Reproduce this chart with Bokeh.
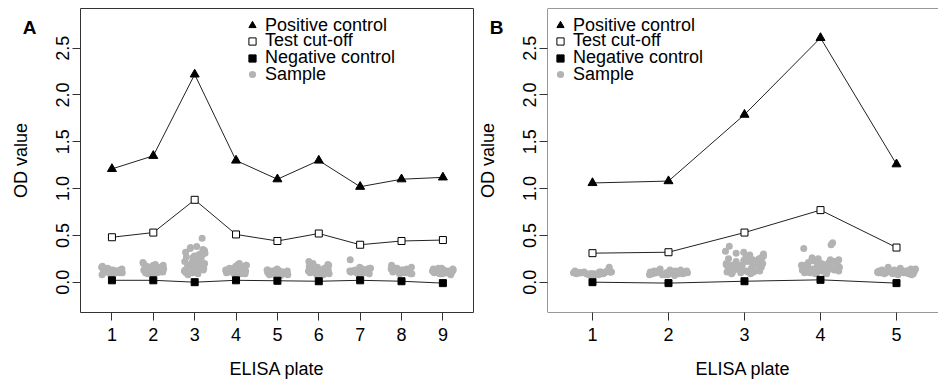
from bokeh.plotting import figure
from bokeh.layouts import row
from bokeh.models import (Range1d, FixedTicker, PrintfTickFormatter, Legend,
                          LegendItem, Span, LinearAxis)
from bokeh.embed import file_html
from bokeh.resources import INLINE

FONT = "Liberation Sans"

# ---------------- data ----------------
PLATES_A = [1, 2, 3, 4, 5, 6, 7, 8, 9]
POS_A = [1.21, 1.35, 2.22, 1.30, 1.10, 1.30, 1.02, 1.10, 1.12]
CUT_A = [0.48, 0.53, 0.88, 0.51, 0.44, 0.52, 0.40, 0.44, 0.45]
NEG_A = [0.02, 0.02, 0.00, 0.02, 0.015, 0.01, 0.02, 0.01, -0.01]

A1 = [0.10, 0.12, 0.09, 0.14, 0.11, 0.13, 0.10, 0.08, 0.12, 0.15, 0.11, 0.09, 0.13,
      0.10, 0.12, 0.17, 0.11, 0.14, 0.10, 0.12, 0.09, 0.13, 0.11, 0.16, 0.10]
A2 = [0.12, 0.15, 0.10, 0.18, 0.13, 0.09, 0.16, 0.20, 0.11, 0.14, 0.17, 0.12, 0.10,
      0.15, 0.19, 0.13, 0.11, 0.16, 0.14, 0.09, 0.18, 0.12, 0.15, 0.21, 0.10, 0.13,
      0.17, 0.11, 0.14, 0.12]
A3 = [0.12, 0.25, 0.10, 0.33, 0.18, 0.14, 0.30, 0.22, 0.09, 0.36, 0.15, 0.28, 0.11,
      0.20, 0.38, 0.13, 0.26, 0.17, 0.31, 0.10, 0.24, 0.35, 0.16, 0.12, 0.29, 0.19,
      0.08, 0.34, 0.21, 0.14, 0.27, 0.47, 0.11, 0.23, 0.32, 0.15, 0.18, 0.37, 0.13,
      0.26, 0.10, 0.30, 0.16, 0.20, 0.12]
A4 = [0.11, 0.15, 0.09, 0.18, 0.13, 0.10, 0.16, 0.12, 0.20, 0.14, 0.09, 0.17, 0.11,
      0.13, 0.19, 0.10, 0.15, 0.12, 0.18, 0.14, 0.10, 0.16, 0.11, 0.13, 0.17, 0.09,
      0.15, 0.12, 0.14, 0.11]
A5 = [0.09, 0.11, 0.08, 0.12, 0.10, 0.13, 0.09, 0.11, 0.07, 0.12, 0.10, 0.14, 0.08,
      0.11, 0.09, 0.13, 0.10, 0.12, 0.08, 0.11, 0.10, 0.09, 0.12, 0.13, 0.10]
A6 = [0.10, 0.14, 0.08, 0.18, 0.12, 0.09, 0.16, 0.22, 0.11, 0.13, 0.19, 0.10, 0.15,
      0.08, 0.12, 0.17, 0.11, 0.14, 0.09, 0.20, 0.13, 0.10, 0.16, 0.12, 0.09, 0.15,
      0.11, 0.13]
A7 = [0.11, 0.13, 0.09, 0.15, 0.12, 0.10, 0.14, 0.24, 0.11, 0.13, 0.09, 0.16, 0.12,
      0.10, 0.14, 0.11, 0.13, 0.10, 0.15, 0.12, 0.09, 0.14, 0.11, 0.12, 0.10]
A8 = [0.11, 0.14, 0.09, 0.16, 0.12, 0.10, 0.13, 0.18, 0.11, 0.15, 0.09, 0.12, 0.14,
      0.10, 0.13, 0.16, 0.11, 0.12, 0.09, 0.15, 0.13, 0.10, 0.12, 0.14, 0.11]
A9 = [0.10, 0.12, 0.09, 0.14, 0.11, 0.13, 0.08, 0.12, 0.10, 0.15, 0.11, 0.09, 0.13,
      0.10, 0.12, 0.14, 0.11, 0.09, 0.13, 0.12, 0.10, 0.11, 0.15, 0.12, 0.10]
SAMPLES_A = [A1, A2, A3, A4, A5, A6, A7, A8, A9]

PLATES_B = [1, 2, 3, 4, 5]
POS_B = [1.06, 1.08, 1.79, 2.61, 1.26]
CUT_B = [0.31, 0.32, 0.53, 0.77, 0.37]
NEG_B = [0.00, -0.01, 0.01, 0.025, -0.01]

B1 = [0.09, 0.10, 0.08, 0.11, 0.10, 0.09, 0.12, 0.10, 0.08, 0.11, 0.16, 0.09, 0.10,
      0.11, 0.08, 0.12, 0.10, 0.09, 0.11, 0.10, 0.08, 0.12, 0.09, 0.10, 0.11, 0.09,
      0.10, 0.11]
B2 = [0.09, 0.11, 0.08, 0.12, 0.10, 0.13, 0.09, 0.11, 0.07, 0.14, 0.10, 0.08, 0.12,
      0.09, 0.11, 0.10, 0.13, 0.08, 0.10, 0.12, 0.09, 0.11, 0.10, 0.08, 0.12, 0.09,
      0.10, 0.11]
B3 = [0.15, 0.22, 0.10, 0.28, 0.18, 0.12, 0.25, 0.20, 0.09, 0.31, 0.16, 0.23, 0.13,
      0.19, 0.27, 0.11, 0.21, 0.17, 0.30, 0.14, 0.24, 0.12, 0.18, 0.33, 0.15, 0.20,
      0.10, 0.26, 0.16, 0.22, 0.385, 0.13, 0.19, 0.29, 0.17, 0.11, 0.23, 0.14, 0.21,
      0.18, 0.25, 0.12, 0.16, 0.20, 0.09, 0.27, 0.15, 0.19, 0.13, 0.22, 0.17, 0.32,
      0.14, 0.24, 0.11, 0.18, 0.21, 0.16, 0.28, 0.13]
B4 = [0.14, 0.20, 0.10, 0.24, 0.16, 0.12, 0.22, 0.18, 0.09, 0.26, 0.15, 0.19, 0.11,
      0.21, 0.17, 0.13, 0.42, 0.23, 0.16, 0.10, 0.20, 0.14, 0.25, 0.18, 0.12, 0.40,
      0.21, 0.15, 0.09, 0.19, 0.17, 0.13, 0.23, 0.11, 0.36, 0.16, 0.20, 0.14, 0.22,
      0.18, 0.10, 0.24, 0.15, 0.12, 0.19, 0.17, 0.21, 0.13, 0.16, 0.11, 0.20, 0.14,
      0.18, 0.15, 0.12]
B5 = [0.10, 0.12, 0.09, 0.13, 0.11, 0.08, 0.14, 0.10, 0.12, 0.16, 0.09, 0.11, 0.13,
      0.10, 0.15, 0.12, 0.09, 0.11, 0.14, 0.10, 0.12, 0.08, 0.13, 0.11, 0.10, 0.12,
      0.09, 0.11]
SAMPLES_B = [B1, B2, B3, B4, B5]

# horizontal jitter offsets (plate units), read as a fixed list
JITTER = [-0.21, 0.13, -0.05, 0.24, -0.17, 0.02, 0.19, -0.24, 0.08, -0.11,
          0.22, -0.01, -0.19, 0.11, 0.05, -0.23, 0.16, -0.08, 0.25, -0.14,
          0.00, 0.20, -0.03, -0.25, 0.09, 0.14, -0.16, 0.23, -0.07, 0.04,
          -0.20, 0.18, -0.12, 0.07, -0.22, 0.12, 0.01, -0.10, 0.21, -0.04]

Y_TICKS = [0.0, 0.5, 1.0, 1.5, 2.0, 2.5]
LEGEND_LABELS = ["Positive control", "Test cut-off", "Negative control", "Sample"]
X_LABEL = "ELISA plate"
Y_LABEL = "OD value"
PANEL_LETTERS = ["A", "B"]

# ---------------- layout constants ----------------
H = 381
TOP = 8
FRAME_H = 304
Y_LO, Y_HI = -0.324, 2.924
LETTER_Y = Y_HI - 19.0 * (Y_HI - Y_LO) / FRAME_H   # 19 px below frame top
LINE_C = "#222222"
BOX_C = "#333333"
GREY = "#B3B3B3"
ROWS = [17.3, 32.8, 49.5, 66.2]   # legend row centres, px below frame top
ROW_H = 21


def style_text_axis(ax):
    ax.axis_line_color = None
    ax.minor_tick_line_color = None
    ax.major_label_text_font = FONT
    ax.major_label_text_font_size = "18px"
    ax.major_label_text_color = "black"
    ax.axis_label_text_font = FONT
    ax.axis_label_text_font_size = "18px"
    ax.axis_label_text_font_style = "normal"
    ax.axis_label_text_color = "black"


def make_panel(letter, plates, pos, cut, neg, samples, x_lo, x_hi, width,
               left, right, legend_x, standoff, full_box):
    p = figure(width=width, height=H, x_range=Range1d(x_lo, x_hi),
               y_range=Range1d(Y_LO, Y_HI), output_backend="svg",
               toolbar_location=None, min_border_left=left,
               min_border_right=right, min_border_top=TOP,
               min_border_bottom=H - FRAME_H - TOP)
    p.xgrid.visible = False
    p.ygrid.visible = False
    if full_box:
        p.outline_line_color = BOX_C
        p.outline_line_width = 1
        p.outline_line_alpha = 1
    else:
        p.outline_line_color = None
        p.add_layout(Span(location=Y_HI, dimension="width", line_color=BOX_C, line_width=1))
        p.add_layout(Span(location=Y_LO, dimension="width", line_color=BOX_C, line_width=1))
        p.add_layout(Span(location=x_lo, dimension="height", line_color=BOX_C, line_width=1))

    # samples
    sx, sy = [], []
    for pl, vals in zip(plates, samples):
        for i, v in enumerate(vals):
            sx.append(pl + JITTER[i % len(JITTER)])
            sy.append(v)
    r_s = p.scatter(sx, sy, marker="circle", size=7, fill_color=GREY, line_color=None)

    p.line(plates, pos, line_color=LINE_C, line_width=1)
    p.line(plates, cut, line_color=LINE_C, line_width=1)
    p.line(plates, neg, line_color=LINE_C, line_width=1)
    r_p = p.scatter(plates, pos, marker="triangle", size=9, fill_color="black",
                    line_color="black")
    r_c = p.scatter(plates, cut, marker="square", size=7, fill_color="white",
                    line_color="black", line_width=1)
    r_n = p.scatter(plates, neg, marker="square", size=7, fill_color="black",
                    line_color="black")

    # axes
    p.xaxis.ticker = FixedTicker(ticks=plates)
    p.yaxis.ticker = FixedTicker(ticks=Y_TICKS)
    p.yaxis.formatter = PrintfTickFormatter(format="%.1f")
    p.xaxis.axis_label = X_LABEL
    p.yaxis.major_label_orientation = "vertical"
    for ax in (p.xaxis[0], p.yaxis[0]):
        style_text_axis(ax)
        ax.major_tick_line_color = BOX_C
        ax.major_tick_out = 8
        ax.major_tick_in = 0
    p.xaxis.major_label_standoff = 7
    p.xaxis.axis_label_standoff = 15
    p.yaxis.major_label_standoff = 3

    # outer left axis: carries the panel letter (as its one label) and the y title
    outer = LinearAxis(ticker=FixedTicker(ticks=[LETTER_Y]),
                       formatter=PrintfTickFormatter(format=letter),
                       axis_label=Y_LABEL)
    style_text_axis(outer)
    outer.major_tick_line_color = None
    outer.major_tick_out = 0
    outer.major_tick_in = 0
    outer.major_label_text_font_style = "bold"
    outer.major_label_text_font_size = "19px"
    outer.major_label_orientation = "horizontal"
    outer.major_label_standoff = 17
    outer.axis_label_standoff = -11
    p.add_layout(outer, "left")

    # legend: one single-item legend per row
    for lab, r, d in zip(LEGEND_LABELS, [r_p, r_c, r_n, r_s], ROWS):
        lg = Legend(items=[LegendItem(label=lab, renderers=[r])],
                    location=(legend_x, FRAME_H - d - ROW_H / 2),
                    padding=0, margin=0, spacing=0, border_line_color=None,
                    background_fill_alpha=0, glyph_width=18, glyph_height=18,
                    label_standoff=standoff, label_height=18,
                    label_text_font=FONT, label_text_font_size="18px",
                    label_text_color="black")
        p.add_layout(lg)
    return p


pa = make_panel(PANEL_LETTERS[0], PLATES_A, POS_A, CUT_A, NEG_A, SAMPLES_A,
                0.24, 9.74, 474, 80, 1, 163, 4, True)
pb = make_panel(PANEL_LETTERS[1], PLATES_B, POS_B, CUT_B, NEG_B, SAMPLES_B,
                0.408, 0.408 + 391 / 76.0, 464, 73, 0, 4, 4, False)

layout = row(pa, pb)
open("out.html", "w").write(file_html(layout, INLINE))
